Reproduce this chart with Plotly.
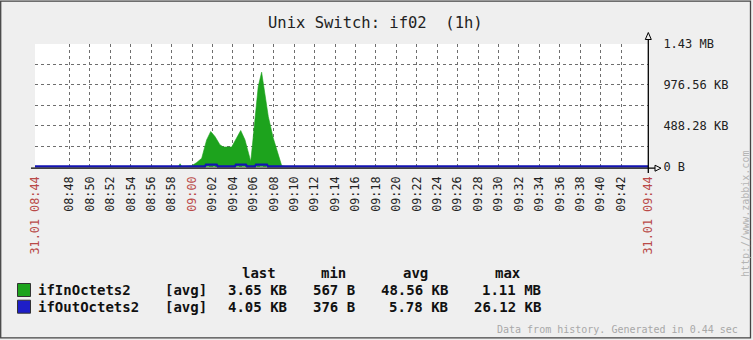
import plotly.graph_objects as go

# ---------------- data ----------------
DAY = "2024-01-31 "
in_times = ["08:44:38", "08:50:00", "08:55:00", "08:58:40", "08:58:50", "08:59:00",
            "08:59:58", "09:00:28", "09:00:57", "09:01:07", "09:01:26", "09:01:50",
            "09:02:15", "09:02:44", "09:03:04", "09:03:53", "09:04:22", "09:04:46",
            "09:05:11", "09:05:31", "09:05:45", "09:05:56", "09:06:10", "09:06:29",
            "09:06:49", "09:07:09", "09:07:28", "09:07:57", "09:08:17", "09:08:37",
            "09:08:47", "09:09:10", "09:15:00", "09:20:00", "09:25:00", "09:30:00",
            "09:35:00", "09:40:00", "09:44:38"]
in_kb = [3.2, 2.8, 3.1, 2.5, 35, 2.5,
         10, 50, 100, 180, 320, 420,
         360, 262, 235, 235, 342, 432,
         322, 163, 63, 282, 600, 956,
         1128, 878, 600, 342, 202, 63,
         10, 3, 2.6, 3.4, 2.9, 3.1,
         2.7, 3.3, 3.65]

out_times = ["08:44:38", "08:52:00", "09:00:00", "09:01:16", "09:01:22", "09:02:25",
             "09:02:31", "09:04:12", "09:04:18", "09:05:17", "09:05:23", "09:06:10",
             "09:06:16", "09:07:20", "09:07:26", "09:20:00", "09:35:00", "09:44:38"]
out_kb = [4, 4.5, 4, 5, 24, 26,
          5, 5, 25, 26, 5, 5,
          26, 25, 5, 4, 4.2, 4.05]

series_names = ["ifInOctets2", "ifOutOctets2"]
series_func = ["[avg]", "[avg]"]
stat_last = ["3.65 KB", "4.05 KB"]
stat_min = ["567 B", "376 B"]
stat_avg = ["48.56 KB", "5.78 KB"]
stat_max = ["1.11 MB", "26.12 KB"]
stat_headers = ["last", "min", "avg", "max"]

x_tick_times = ["08:44:38", "08:48", "08:50", "08:52", "08:54", "08:56", "08:58", "09:00",
                "09:02", "09:04", "09:06", "09:08", "09:10", "09:12", "09:14", "09:16",
                "09:18", "09:20", "09:22", "09:24", "09:26", "09:28", "09:30", "09:32",
                "09:34", "09:36", "09:38", "09:40", "09:42", "09:44:38"]
x_tick_labels = ["31.01 08:44", "08:48", "08:50", "08:52", "08:54", "08:56", "08:58", "09:00",
                 "09:02", "09:04", "09:06", "09:08", "09:10", "09:12", "09:14", "09:16",
                 "09:18", "09:20", "09:22", "09:24", "09:26", "09:28", "09:30", "09:32",
                 "09:34", "09:36", "09:38", "09:40", "09:42", "31.01 09:44"]
red_labels = ["31.01 08:44", "09:00", "31.01 09:44"]

y_tick_vals = [0, 244.14, 488.28, 732.42, 976.56, 1220.70, 1464.84]
y_tick_labels = ["0 B", "", "488.28 KB", "", "976.56 KB", "", "1.43 MB"]

# ---------------- style ----------------
W, H = 753, 340
PL, PR, PT, PB = 35, 648, 44, 169   # plot area in pixels
GREEN = "#1DA31D"
BLUE = "#1414B4"
BOX_BLUE = "#1E1EC8"
RED = "#B94A48"
GRID = "#6e6e6e"
MONO = "DejaVu Sans Mono"


def px(x):
    return (x - PL) / (PR - PL)


def py(y):
    return (PB - y) / (PB - PT)


def ts(t):
    if len(t) == 5:
        t += ":00"
    return DAY + t


fig = go.Figure()
fig.add_trace(go.Scatter(x=[ts(t) for t in in_times], y=in_kb, mode="lines",
                         line=dict(color=GREEN, width=0.6), fill="tozeroy",
                         fillcolor=GREEN, name=series_names[0]))
fig.add_trace(go.Scatter(x=[ts(t) for t in out_times], y=out_kb, mode="lines",
                         line=dict(color=BLUE, width=2.2), name=series_names[1]))

ticktext = [f'<span style="color:{RED}">{l}</span>' if l in red_labels else l
            for l in x_tick_labels]

fig.update_xaxes(range=[ts("08:44:38"), ts("09:44:38")], type="date",
                 tickmode="array", tickvals=[ts(t) for t in x_tick_times], ticktext=ticktext,
                 tickangle=-90, tickfont=dict(family=MONO, size=11.8, color="#222"),
                 showgrid=True, gridcolor=GRID, griddash="dot", gridwidth=1,
                 showline=False, zeroline=False, ticks="", ticklabelstandoff=4)
y0 = -(PB - 166.7) / (166.7 - PT) * 1464.84
fig.update_yaxes(range=[y0, 1464.84], side="right", tickmode="array",
                 tickvals=y_tick_vals, ticktext=y_tick_labels,
                 tickfont=dict(family=MONO, size=12, color="#222"),
                 showgrid=True, gridcolor=GRID, griddash="dot", gridwidth=1,
                 showline=False, zeroline=False, ticks="outside", ticklen=12,
                 tickcolor="rgba(0,0,0,0)")

shapes = []
# outer border
shapes.append(dict(type="rect", xref="paper", yref="paper", x0=px(0.7), x1=px(750.5),
                   y0=py(1.2), y1=py(337.8), line=dict(color="#444", width=1.3),
                   fillcolor="rgba(0,0,0,0)"))
# axes lines and arrows
shapes.append(dict(type="line", xref="paper", yref="paper", x0=px(31), x1=px(655),
                   y0=py(168.2), y1=py(168.2), line=dict(color="#000", width=1.3)))
shapes.append(dict(type="line", xref="paper", yref="paper", x0=px(648.3), x1=px(648.3),
                   y0=py(173), y1=py(39.5), line=dict(color="#000", width=1.3)))
shapes.append(dict(type="path", xref="paper", yref="paper",
                   path=f"M {px(655)} {py(165.2)} L {px(661)} {py(168.2)} L {px(655)} {py(171.2)} Z",
                   line=dict(color="#000", width=1), fillcolor="rgba(0,0,0,0)"))
shapes.append(dict(type="path", xref="paper", yref="paper",
                   path=f"M {px(645.3)} {py(39.5)} L {px(648.3)} {py(32.5)} L {px(651.3)} {py(39.5)} Z",
                   line=dict(color="#000", width=1), fillcolor="rgba(0,0,0,0)"))
# legend boxes
for i, c in enumerate([GREEN, BOX_BLUE]):
    yc = 290 + i * 16.7
    shapes.append(dict(type="rect", xref="paper", yref="paper", x0=px(17.5), x1=px(30.5),
                       y0=py(yc - 6.5), y1=py(yc + 6.5), fillcolor=c,
                       line=dict(color="#333", width=1)))

ann = []


def text(x, y, s, size=14, color="#111", xanchor="left", bold=True, angle=0):
    ann.append(dict(x=px(x), y=py(y), xref="paper", yref="paper", text=f"<b>{s}</b>" if bold else s,
                    showarrow=False, xanchor=xanchor, yanchor="middle", textangle=angle,
                    font=dict(family=MONO, size=size, color=color)))


# title
text(375.5, 23, "Unix Switch: if02  (1h)", size=15.5, color="#222", xanchor="center", bold=False)
# legend header
for h, xc in zip(stat_headers, [259, 333, 415, 508]):
    text(xc, 273, h, xanchor="center")
for i in range(2):
    yc = 290 + i * 16.7
    text(36, yc, series_names[i])
    text(163, yc, series_func[i])
    text(289, yc, stat_last[i], xanchor="right")
    text(357, yc, stat_min[i], xanchor="right")
    text(450, yc, stat_avg[i], xanchor="right")
    text(543, yc, stat_max[i], xanchor="right")
# footer
text(740, 329, "Data from history. Generated in 0.44 sec", size=10, color="#a8a8a8",
     xanchor="right", bold=False)
text(746, 214, "http://www.zabbix.com", size=10, color="#b4b4b4", xanchor="center",
     bold=False, angle=-90)

fig.update_layout(width=W, height=H, margin=dict(l=PL, r=W - PR, t=PT, b=H - PB),
                  paper_bgcolor="#efefef", plot_bgcolor="#ffffff", showlegend=False,
                  shapes=shapes, annotations=ann)

fig.write_html("out.html", config={"displayModeBar": False})
